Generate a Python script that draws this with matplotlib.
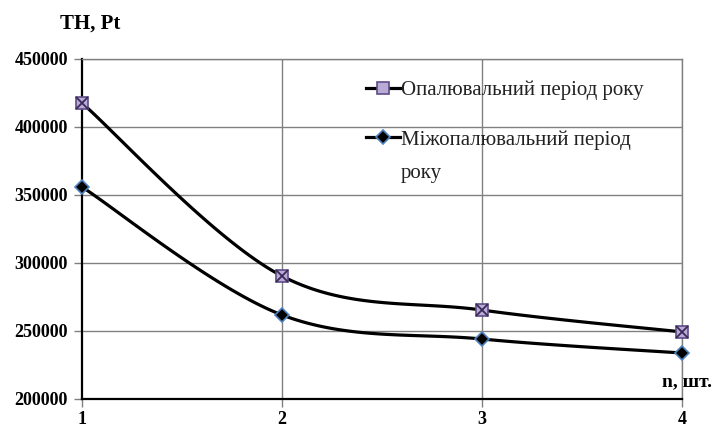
import matplotlib.pyplot as plt
import numpy as np
from matplotlib.lines import Line2D

# Data
n_values = [1, 2, 3, 4]
heating = [417600, 290400, 265400, 249300]      # Опалювальний період року
nonheating = [355900, 261800, 244100, 233800]   # Міжопалювальний період року
y_ticks = [200000, 250000, 300000, 350000, 400000, 450000]
label_heating = 'Опалювальний період року'
label_nonheating = 'Міжопалювальний період'
label_nonheating_wrap = 'року'


def smooth(xs, ys, steps=40):
    # Excel-like smoothed line: cubic Bezier with Catmull-Rom control points
    p = np.column_stack([xs, ys]).astype(float)
    p = np.vstack([p[0], p, p[-1]])
    out = []
    for i in range(1, len(p) - 2):
        p0, p1, p2, p3 = p[i - 1], p[i], p[i + 1], p[i + 2]
        c1 = p1 + (p2 - p0) / 6
        c2 = p2 - (p3 - p1) / 6
        t = np.linspace(0, 1, steps)[:, None]
        seg = ((1 - t) ** 3 * p1 + 3 * (1 - t) ** 2 * t * c1
               + 3 * (1 - t) * t ** 2 * c2 + t ** 3 * p2)
        out.append(seg if i == 1 else seg[1:])
    out = np.vstack(out)
    return out[:, 0], out[:, 1]


plt.rcParams['font.family'] = ['Liberation Serif', 'DejaVu Serif']

fig = plt.figure(figsize=(7.18, 4.30), dpi=100)
ax = fig.add_axes([0.1142, 0.0721, 0.8357, 0.7907])

grid_kw = dict(color='#808080', lw=1.0, zorder=1)
for yv in y_ticks[1:]:
    ax.axhline(yv, **grid_kw)
for xv in n_values[1:]:
    ax.axvline(xv, **grid_kw)

sq_style = dict(marker='s', ms=9, mfc='#b9abd6', mec='#5e4d86', mew=1.2)
dm_style = dict(marker='D', ms=7.5, mfc='black', mec='#4f81bd', mew=1.2)

sx, sy = smooth(n_values, heating)
ax.plot(sx, sy, color='black', lw=2.3, zorder=3, solid_capstyle='round')
ax.plot(n_values, heating, ls='none', zorder=4, clip_on=False, **sq_style)
ax.plot(n_values, heating, ls='none', marker='x', ms=8, mec='#3a2a5a',
        mew=1.3, zorder=5, clip_on=False)

sx, sy = smooth(n_values, nonheating)
ax.plot(sx, sy, color='black', lw=2.3, zorder=3, solid_capstyle='round')
ax.plot(n_values, nonheating, ls='none', zorder=4, clip_on=False, **dm_style)

ax.set_xlim(1, 4)
ax.set_ylim(200000, 450000)
ax.set_xticks(n_values)
ax.set_yticks(y_ticks)
ax.set_xticklabels([str(v) for v in n_values], fontsize=13, fontweight='bold')
ax.set_yticklabels([str(v) for v in y_ticks], fontsize=13, fontweight='bold')
ax.tick_params(axis='both', direction='out', length=6, width=1,
               color='#808080', pad=4)
ax.tick_params(axis='x', pad=3)

for side in ['top', 'right']:
    ax.spines[side].set_color('#808080')
    ax.spines[side].set_linewidth(1.0)
ax.spines['left'].set_linewidth(1.6)
ax.spines['bottom'].set_linewidth(1.6)

h1 = Line2D([], [], color='black', lw=2.3, **sq_style)
h2 = Line2D([], [], color='black', lw=2.3, **dm_style)
leg = ax.legend([h1, h2], [label_heating, label_nonheating],
                loc='upper left', bbox_to_anchor=(0.46, 0.962),
                frameon=False, fontsize=15, handlelength=1.6,
                handletextpad=0.05, labelspacing=1.45, borderaxespad=0)
for t in leg.get_texts():
    t.set_color('#222222')

# wrapped second line of the second legend label
fig.canvas.draw()
bb = leg.get_texts()[1].get_window_extent().transformed(fig.transFigure.inverted())
fig.text(bb.x0, bb.y0 - 0.077, label_nonheating_wrap, fontsize=15,
         color='#222222', ha='left', va='bottom')

fig.text(0.084, 0.944, 'TH, Pt', fontsize=15, fontweight='bold',
         ha='left', va='center')
fig.text(0.992, 0.112, 'n, шт.', fontsize=14, fontweight='bold',
         ha='right', va='center')

fig.savefig('out.png', dpi=100)
